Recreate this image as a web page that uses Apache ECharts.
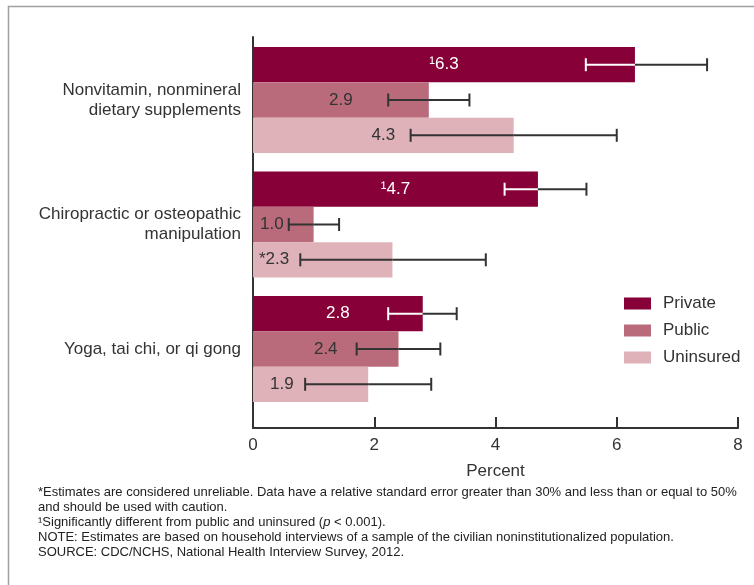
<!DOCTYPE html>
<html lang="en">
<head>
    <meta charset="UTF-8">
    <title>Complementary health approaches by insurance</title>
    <script type="text/javascript" src="https://cdn.jsdelivr.net/npm/echarts@6/dist/echarts.min.js"></script>
    <style>
        html, body { margin: 0; padding: 0; background: #fff; }
        #chart { width: 754px; height: 585px; }
    </style>
</head>
<body>
    <div id="chart"></div>
<script>
    // data
    var categories = ['Nonvitamin, nonmineral\ndietary supplements', 'Chiropractic or osteopathic\nmanipulation', 'Yoga, tai chi, or qi gong'];
    var seriesNames = ['Private', 'Public', 'Uninsured'];
    var privateVals = [6.3, 4.7, 2.8];
    var publicVals = [2.9, 1.0, 2.4];
    var uninsuredVals = [4.3, 2.3, 1.9];
    var privateLow = [5.49, 4.15, 2.23];
    var privateHigh = [7.49, 5.50, 3.36];
    var publicLow = [2.23, 0.59, 1.71];
    var publicHigh = [3.57, 1.42, 3.09];
    var uninsuredLow = [2.60, 0.78, 0.86];
    var uninsuredHigh = [6.00, 3.84, 2.94];
    // footnote marks in front of the values
    var privateMarks = ['\u00b9', '\u00b9', ''];
    var publicMarks = ['', '', ''];
    var uninsuredMarks = ['', '*', ''];
    var xTicks = { min: 0, max: 8, interval: 2 };

    var colors = ['#870037', '#b96b7b', '#dfb1b9'];
    var labelColors = ['#ffffff', '#333333', '#333333'];
    var barW = 35.3;
    var font = 'Liberation Sans, Arial, sans-serif';
    // some labels are pushed left so the error bar doesn't cover them
    var leftLabels = { 1: { 1: 7 }, 2: { 1: 6, 2: 17 } };

    var vals = [privateVals, publicVals, uninsuredVals];
    var lows = [privateLow, publicLow, uninsuredLow];
    var highs = [privateHigh, publicHigh, uninsuredHigh];
    var marks = [privateMarks, publicMarks, uninsuredMarks];

    var myChart = echarts.init(document.getElementById('chart'));

    function errorBar(k) {
        return function (params, api) {
            var cat = api.value(0);
            var lo = api.value(1), hi = api.value(2), v = api.value(3);
            var y = api.coord([0, cat])[1] + (k - 1) * barW;
            var xl = api.coord([lo, cat])[0];
            var xh = api.coord([hi, cat])[0];
            var xv = api.coord([v, cat])[0];
            var cap = 6.5;
            var dark = '#333';
            var inner = k === 0 ? '#fff' : dark;   // white inside the dark bar
            var mid = Math.min(Math.max(xv, xl), xh);
            return {
                type: 'group',
                children: [
                    { type: 'line', shape: { x1: xl, y1: y, x2: mid, y2: y }, style: { stroke: inner, lineWidth: 2 } },
                    { type: 'line', shape: { x1: mid, y1: y, x2: xh, y2: y }, style: { stroke: dark, lineWidth: 2 } },
                    { type: 'line', shape: { x1: xl, y1: y - cap, x2: xl, y2: y + cap }, style: { stroke: xl < xv ? inner : dark, lineWidth: 2 } },
                    { type: 'line', shape: { x1: xh, y1: y - cap, x2: xh, y2: y + cap }, style: { stroke: xh < xv ? inner : dark, lineWidth: 2 } }
                ]
            };
        };
    }

    var series = [];
    seriesNames.forEach(function (name, k) {
        series.push({
            name: name,
            type: 'bar',
            xAxisIndex: 0,
            yAxisIndex: 0,
            barWidth: barW,
            barGap: '0%',
            itemStyle: { color: colors[k] },
            data: vals[k].map(function (v, i) {
                var item = { value: v };
                var shift = leftLabels[k] && leftLabels[k][i];
                if (shift !== undefined) {
                    item.label = { position: 'insideLeft', distance: shift };
                }
                return item;
            }),
            label: {
                show: true,
                position: 'inside',
                color: labelColors[k],
                fontFamily: font,
                fontSize: 17,
                formatter: function (p) {
                    return marks[k][p.dataIndex] + p.value.toFixed(1);
                }
            },
            z: 2
        });
    });
    seriesNames.forEach(function (name, k) {
        series.push({
            type: 'custom',
            xAxisIndex: 0,
            yAxisIndex: 0,
            renderItem: errorBar(k),
            encode: { x: [1, 2], y: 0 },
            data: vals[k].map(function (v, i) {
                return [i, lows[k][i], highs[k][i], v];
            }),
            z: 5,
            silent: true
        });
    });

    var noteFont = 'Liberation Sans Narrow, Liberation Sans, Arial';
    var option = {
        animation: false,
        backgroundColor: '#ffffff',
        textStyle: { fontFamily: font },
        graphic: [
            {
                type: 'rect',
                shape: { x: 8.5, y: 6.5, width: 900, height: 800 },
                style: { fill: 'none', stroke: '#a0a0a0', lineWidth: 1.5 },
                silent: true
            },
            {
                type: 'text',
                left: 38,
                top: 486,
                style: {
                    text: [
                        '{a|*Estimates are considered unreliable. Data have a relative standard error greater than 30% and less than or equal to 50%}',
                        '{a|and should be used with caution.}',
                        '{a|\u00b9Significantly different from public and uninsured (}{i|p}{a| < 0.001).}',
                        '{a|NOTE: Estimates are based on household interviews of a sample of the civilian noninstitutionalized population.}',
                        '{a|SOURCE: CDC/NCHS, National Health Interview Survey, 2012.}'
                    ].join('\n'),
                    rich: {
                        a: { fontFamily: noteFont, fontSize: 13, lineHeight: 15, fill: '#222' },
                        i: { fontFamily: noteFont, fontSize: 13, lineHeight: 15, fontStyle: 'italic', fill: '#222' }
                    }
                }
            }
        ],
        legend: {
            orient: 'vertical',
            left: 624,
            top: 295,
            padding: 0,
            itemWidth: 27,
            itemHeight: 12,
            itemGap: 10,
            icon: 'rect',
            data: seriesNames,
            textStyle: { fontFamily: font, fontSize: 17, color: '#333', padding: [0, 0, 0, 7] }
        },
        grid: [
            { left: 253, width: 485, top: 37.75, height: 373.5 },
            { left: 253, width: 485, top: 37, height: 391 }
        ],
        xAxis: [
            { gridIndex: 0, type: 'value', min: xTicks.min, max: xTicks.max, show: false },
            {
                gridIndex: 1,
                type: 'value',
                min: xTicks.min,
                max: xTicks.max,
                interval: xTicks.interval,
                name: 'Percent',
                nameLocation: 'middle',
                nameGap: 35,
                nameTextStyle: { fontFamily: font, fontSize: 17, color: '#333' },
                axisLine: { show: true, lineStyle: { color: '#333', width: 2 } },
                axisTick: { show: true, inside: true, length: 11, lineStyle: { color: '#333', width: 2 } },
                axisLabel: { fontFamily: font, fontSize: 17, color: '#333', margin: 9 },
                splitLine: { show: false }
            }
        ],
        yAxis: [
            {
                gridIndex: 0,
                type: 'category',
                inverse: true,
                data: categories,
                axisLine: { show: false },
                axisTick: { show: false },
                axisLabel: { fontFamily: font, fontSize: 17, color: '#333', margin: 12, lineHeight: 20, align: 'right' }
            },
            {
                gridIndex: 1,
                type: 'value',
                min: 0,
                max: 1,
                axisLine: { show: true, lineStyle: { color: '#333', width: 2 } },
                axisTick: { show: false },
                axisLabel: { show: false },
                splitLine: { show: false }
            }
        ],
        series: series
    };
    myChart.setOption(option);
</script>
</body>
</html>
